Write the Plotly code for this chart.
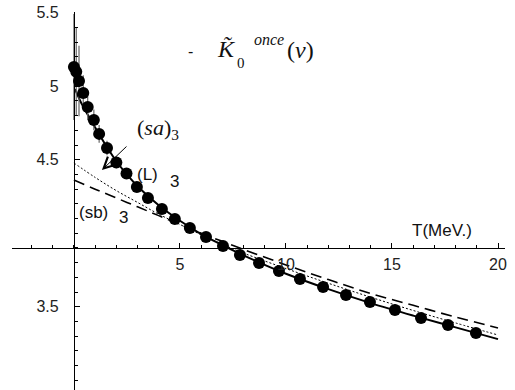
import plotly.graph_objects as go

# measured points (lattice data) with error bars
t_data = [0, 0.11, 0.24, 0.44, 0.65, 0.94, 1.19, 1.56, 2.0, 2.48, 2.97, 3.49, 4.15, 4.76,
          5.47, 6.23, 7.03, 7.83, 8.73, 9.67, 10.66, 11.75, 12.83, 13.96, 15.14, 16.37,
          17.64, 18.96]
k_data = [5.131, 5.099, 5.036, 4.954, 4.859, 4.771, 4.676, 4.580, 4.482, 4.407, 4.315,
          4.240, 4.165, 4.097, 4.036, 3.975, 3.914, 3.852, 3.798, 3.744, 3.689, 3.635,
          3.580, 3.533, 3.478, 3.424, 3.376, 3.322]
k_err = [0.36, 0.30, 0.24, 0.12, 0.09, 0.07, 0.06, 0.05, 0.04, 0.03, 0.02, 0, 0, 0,
         0, 0, 0, 0, 0, 0, 0, 0, 0, 0, 0, 0, 0, 0]

# (sa)_3 curve - solid
t_sa = [0.05, 0.3, 0.6, 1.0, 1.5, 2.0, 2.5, 3.0, 4.0, 5.0, 6.0, 7.0, 8.0, 9.0, 10, 12, 14, 16, 18, 20]
k_sa = [4.98, 4.90, 4.82, 4.72, 4.60, 4.49, 4.40, 4.32, 4.19, 4.085, 3.995, 3.92, 3.85,
        3.785, 3.725, 3.62, 3.525, 3.44, 3.36, 3.28]

# (L)_3 curve - dotted
t_l = [0, 1, 2, 3, 4, 5, 6, 7, 8, 10, 12, 14, 16, 18, 20]
k_l = [4.478, 4.38, 4.29, 4.21, 4.13, 4.06, 3.99, 3.925, 3.865, 3.76, 3.66, 3.565, 3.475, 3.39, 3.308]

# (sb)_3 curve - dashed
t_sb = [0, 1, 2, 3, 4, 5, 6, 7, 8, 10, 12, 14, 16, 18, 20]
k_sb = [4.363, 4.30, 4.24, 4.18, 4.12, 4.06, 4.00, 3.945, 3.89, 3.785, 3.685, 3.59, 3.51, 3.43, 3.356]

x_ticks = [5, 10, 15, 20]
y_ticks = [3.5, 4.5, 5.0, 5.5]
y_ticklabels = ["3.5", "4.5", "5", "5.5"]

W, H = 515, 390
x_rng = [-2.92, 20.33]
y_rng = [2.934, 5.505]
x_dom = [12 / W, 505 / W]
y_dom = [0, 1 - 12 / H]
y_cross = 3.9   # x axis crosses here
x_cross = 0.0

x_axis_pos = y_dom[0] + (y_cross - y_rng[0]) / (y_rng[1] - y_rng[0]) * (y_dom[1] - y_dom[0])
y_axis_pos = x_dom[0] + (x_cross - x_rng[0]) / (x_rng[1] - x_rng[0]) * (x_dom[1] - x_dom[0])

fig = go.Figure()

fig.add_trace(go.Scatter(
    x=t_sb, y=k_sb, mode="lines", line_shape="spline",
    line=dict(color="black", width=1.6, dash="11px,6px"),
))
fig.add_trace(go.Scatter(
    x=t_l, y=k_l, mode="lines", line_shape="spline",
    line=dict(color="black", width=1, dash="2px,2px"),
))
fig.add_trace(go.Scatter(
    x=t_sa, y=k_sa, mode="lines", line_shape="spline",
    line=dict(color="black", width=2),
))
fig.add_trace(go.Scatter(
    x=t_data, y=k_data, mode="markers",
    marker=dict(color="black", size=12),
    error_y=dict(type="data", array=k_err, color="#666666", thickness=1.2, width=0),
))

sans = "Liberation Sans, Arial, sans-serif"
serif = "Liberation Serif, Times New Roman, serif"


def label(x, y, text, size, family=sans):
    fig.add_annotation(x=x, y=y, text=text, showarrow=False,
                       font=dict(family=family, size=size, color="#111111"))


# title-like formula
label(5.5, 5.233, "-", 16)
label(7.18, 5.25, "<i>K\u0303</i>", 24, serif)
label(7.88, 5.158, "0", 15, serif)
label(9.2, 5.315, "<i>once</i>", 16, serif)
label(10.68, 5.247, "(<i>\u03bd</i>)", 24, serif)

# curve labels
label(3.96, 4.71, "(<i>sa</i>)<sub>3</sub>", 22, serif)
label(3.49, 4.397, "(L)", 17)
label(4.72, 4.349, "3", 17)
label(0.9, 4.138, "(sb)", 17)
label(2.36, 4.104, "3", 17)
label(17.36, 4.022, "T(MeV.)", 17)

fig.add_annotation(x=1.32, y=4.43, ax=2.55, ay=4.60, axref="x", ayref="y",
                   text="", showarrow=True, arrowhead=5, arrowsize=2.2,
                   arrowwidth=1, arrowcolor="black")

fig.update_layout(
    width=W, height=H,
    template="plotly_white",
    plot_bgcolor="white", paper_bgcolor="white",
    margin=dict(l=0, r=0, t=0, b=0, autoexpand=False),
    showlegend=False,
    xaxis=dict(
        domain=x_dom, range=x_rng, anchor="free", position=x_axis_pos, automargin=False,
        showgrid=False, zeroline=False, showline=True, linecolor="black", linewidth=1,
        tickvals=x_ticks, ticktext=[str(v) for v in x_ticks],
        ticks="inside", ticklen=5, tickcolor="black", tickwidth=1,
        minor=dict(dtick=1, tick0=0, ticks="inside", ticklen=3, tickcolor="black", showgrid=False),
        tickfont=dict(family=sans, size=16, color="#222222"),
        ticklabelstandoff=2,
    ),
    yaxis=dict(
        domain=y_dom, range=y_rng, anchor="free", position=y_axis_pos, automargin=False,
        showgrid=False, zeroline=False, showline=True, linecolor="black", linewidth=1,
        tickvals=y_ticks, ticktext=y_ticklabels,
        ticks="inside", ticklen=5, tickcolor="black", tickwidth=1,
        minor=dict(dtick=0.1, tick0=0, ticks="inside", ticklen=3, tickcolor="black", showgrid=False),
        tickfont=dict(family=sans, size=16, color="#222222"),
        ticklabelstandoff=12,
    ),
)

# remove the default page margin so the figure sits at the window's top-left corner
fig.write_html("out.html", config={"displayModeBar": False},
               post_script="document.body.style.margin='0';")
